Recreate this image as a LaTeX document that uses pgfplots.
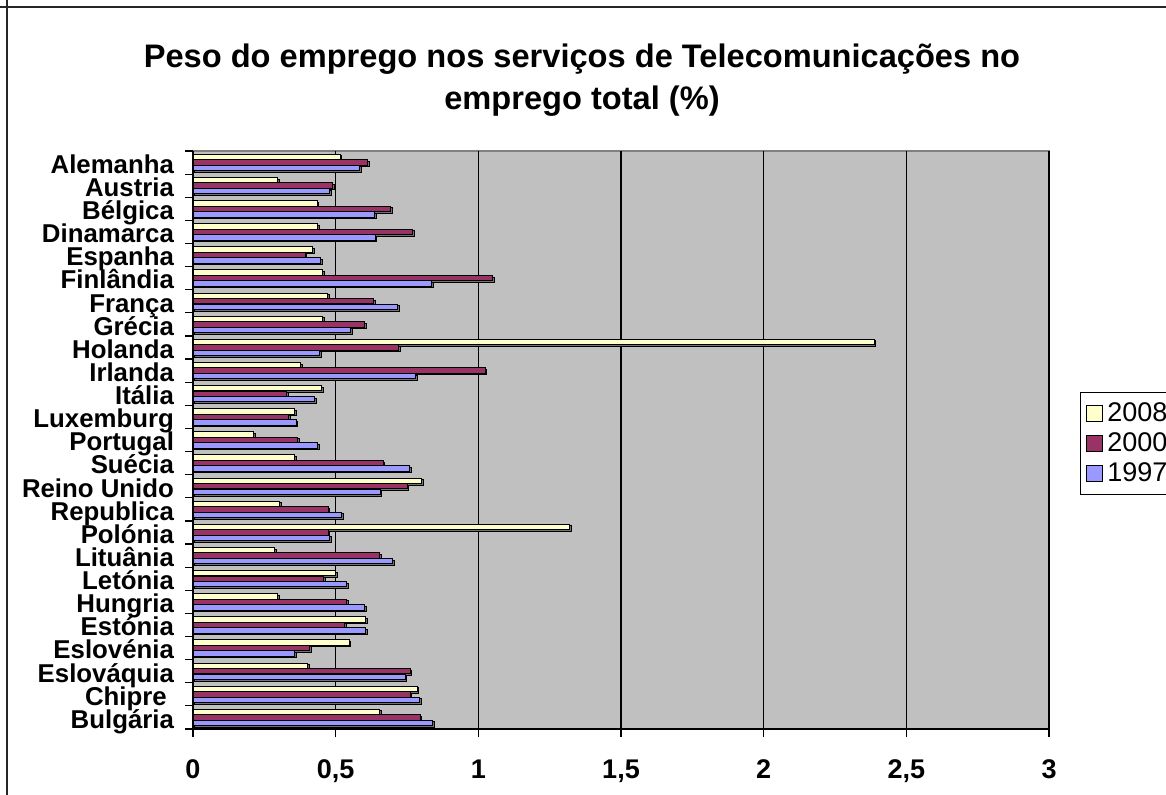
\documentclass[border=0pt]{standalone}
\usepackage{fontspec}
\setmainfont{Liberation Sans}
\usepackage{pgfplots}
\pgfplotsset{compat=1.18}
\usetikzlibrary{shadows}
\definecolor{c2008}{HTML}{FFFFCC}
\definecolor{c2000}{HTML}{993366}
\definecolor{c1997}{HTML}{9999FF}
\definecolor{plotbg}{HTML}{C0C0C0}
\tikzset{myshadow/.style={drop shadow={shadow xshift=0.8pt, shadow yshift=-0.8pt, opacity=1, fill=black!55}}}
\begin{document}
\begin{tikzpicture}[x=1pt,y=1pt]
\useasboundingbox (0,0) rectangle (583,397);
\draw[black!85, line width=0.8pt] (3.5,400) -- (3.5,-5);
\draw[black!85, line width=0.8pt] (0,393.5) -- (590,393.5);
\node[font=\bfseries\fontsize{16.3}{21}\selectfont, align=center] at (291,357) {Peso do emprego nos serviços de Telecomunicações no\\emprego total (\%)};
\begin{axis}[
  at={(96.5pt,32.5pt)}, anchor=south west,
  scale only axis, width=428pt, height=289pt,
  xmin=0, xmax=3, ymin=-0.5, ymax=24.5,
  xbar, bar width=2.7pt,
  axis x line*=bottom, axis y line*=left,
  axis line style={black, line width=0.8pt},
  axis background/.style={fill=plotbg, draw=black!50, line width=0.8pt},
  tick align=outside, major tick length=4pt,
  tick style={black, line width=0.6pt},
  xtick={0,0.5,1,1.5,2,2.5,3},
  /pgf/number format/use comma,
  /pgf/number format/assume math mode=true,
  xticklabel style={font=\bfseries\fontsize{13.5}{15}\selectfont, yshift=-7.8pt},
  xmajorgrids, major grid style={black, line width=0.7pt},
  ytick={-0.5,0.5,1.5,2.5,3.5,4.5,5.5,6.5,7.5,8.5,9.5,10.5,11.5,12.5,13.5,14.5,15.5,16.5,17.5,18.5,19.5,20.5,21.5,22.5,23.5,24.5},
  yticklabels={},
  extra y ticks={0,1,2,3,4,5,6,7,8,9,10,11,12,13,14,15,16,17,18,19,20,21,22,23,24},
  extra y tick labels={Bulgária,Chipre\hspace*{0.28em},Eslováquia,Eslovénia,Estónia,Hungria,Letónia,Lituânia,Polónia,Republica,Reino Unido,Suécia,Portugal,Luxemburg,Itália,Irlanda,Holanda,Grécia,França,Finlândia,Espanha,Dinamarca,Bélgica,Austria,Alemanha},
  extra y tick style={major tick length=0pt, tick style={draw=none}, grid=none,
     tick label style={font=\bfseries\fontsize{12.9}{14}\selectfont, anchor=base east, xshift=-6pt, yshift=-5.4pt}},
  legend style={at={(1.036,0.405)}, anchor=south west, draw=black, line width=0.5pt, fill=white,
     font=\fontsize{13.5}{16}\selectfont, inner xsep=3pt, inner ysep=3pt, cells={anchor=west}},
  legend image code/.code={\draw[#1, draw=black, line width=0.5pt] (0pt,-4pt) rectangle (8pt,4pt);},
]
\addlegendimage{fill=c2008}
\addlegendentry{2008}
\addlegendimage{fill=c2000}
\addlegendentry{2000}
\addlegendimage{fill=c1997}
\addlegendentry{1997}
\addplot[forget plot, fill=c2008, draw=black, line width=0.5pt, bar shift=2.75pt, myshadow] coordinates {
(0.655,0) (0.786,1) (0.402,2) (0.548,3) (0.605,4) (0.297,5) (0.501,6) (0.287,7) (1.321,8) (0.303,9)
(0.802,10) (0.357,11) (0.213,12) (0.357,13) (0.450,14) (0.378,15) (2.388,16) (0.455,17) (0.472,18) (0.455,19)
(0.420,20) (0.438,21) (0.435,22) (0.297,23) (0.516,24)};
\addplot[forget plot, fill=c2000, draw=black, line width=0.5pt, bar shift=0pt, myshadow] coordinates {
(0.796,0) (0.761,1) (0.761,2) (0.409,3) (0.531,4) (0.538,5) (0.458,6) (0.654,7) (0.474,8) (0.474,9)
(0.751,10) (0.666,11) (0.367,12) (0.336,13) (0.329,14) (1.024,15) (0.720,16) (0.601,17) (0.633,18) (1.050,19)
(0.393,20) (0.770,21) (0.692,22) (0.490,23) (0.613,24)};
\addplot[forget plot, fill=c1997, draw=black, line width=0.5pt, bar shift=-2.75pt, myshadow] coordinates {
(0.839,0) (0.794,1) (0.744,2) (0.357,3) (0.605,4) (0.601,5) (0.538,6) (0.699,7) (0.479,8) (0.521,9)
(0.656,10) (0.759,11) (0.438,12) (0.362,13) (0.427,14) (0.780,15) (0.445,16) (0.552,17) (0.717,18) (0.836,19)
(0.448,20) (0.639,21) (0.636,22) (0.479,23) (0.584,24)};
\end{axis}
\end{tikzpicture}
\end{document}
